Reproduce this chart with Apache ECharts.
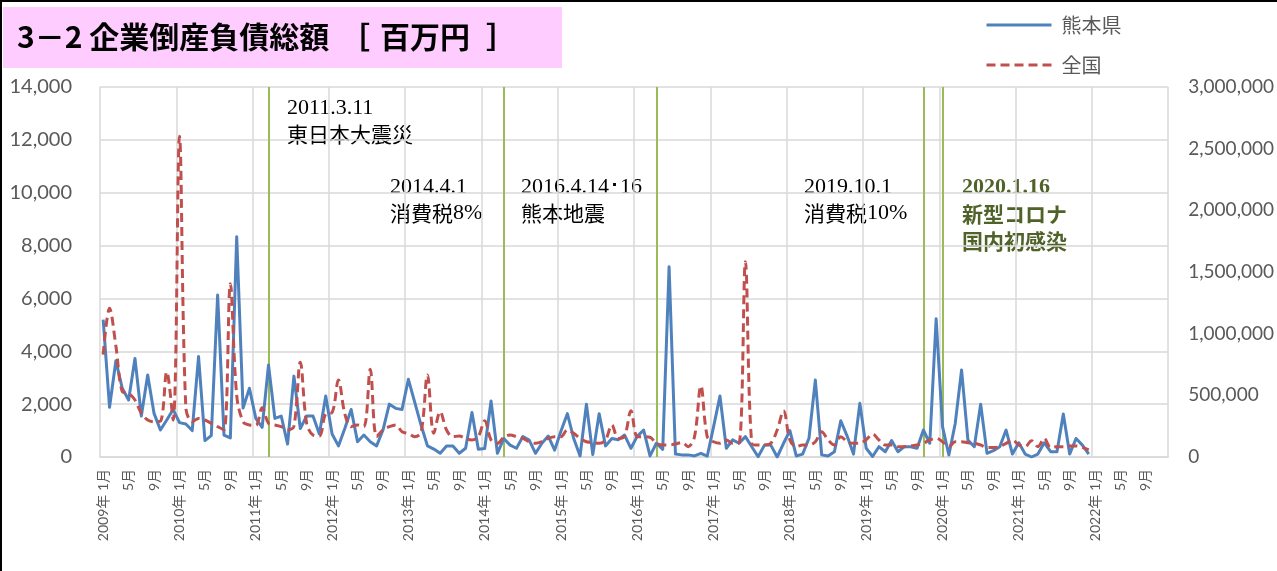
<!DOCTYPE html>
<html>
<head>
<meta charset="utf-8">
<script src="https://cdn.jsdelivr.net/npm/echarts@6/dist/echarts.min.js"></script>
<style>
html,body{margin:0;padding:0;background:#fff;}
#chart{width:1277px;height:571px;}
</style>
</head>
<body>
<div id="chart"></div>
<script>
// ---- data ----
const startYear = 2009;
const endYear = 2022;           // axis runs to 2022年12月
const seriesNames = ['熊本県', '全国'];
// 熊本県 負債総額 [百万円], monthly 2009年1月 - 2021年12月 (left axis)
const kumamoto = [
  5200, 1880, 3640, 2600, 2160, 3730, 1550, 3100, 1650, 1020, 1400, 1800,
  1300, 1250, 1000, 3800, 620, 810, 6130, 830, 720, 8330, 1850, 2600,
  1460, 1120, 3480, 1460, 1550, 490, 3060, 1080, 1550, 1550, 870, 2310,
  870, 420, 1080, 1800, 580, 830, 580, 420, 1020, 2000, 1840, 1800,
  2940, 2070, 1200, 420, 300, 140, 420, 420, 140, 330, 1680, 290,
  320, 2120, 140, 700, 450, 330, 770, 640, 140, 520, 790, 260,
  980, 1640, 700, 40, 2000, 90, 1640, 420, 700, 650, 830, 330,
  790, 1020, 40, 520, 290, 7200, 110, 80, 80, 40, 140, 30,
  1150, 2310, 330, 650, 520, 770, 390, 10, 450, 450, 0, 520,
  1000, 40, 110, 710, 2910, 80, 40, 200, 1370, 790, 110, 2030,
  330, 20, 390, 200, 620, 200, 390, 390, 330, 1020, 520, 5230,
  1150, 75, 1270, 3290, 640, 390, 2000, 140, 240, 390, 1020, 110,
  540, 110, 0, 110, 540, 200, 200, 1630, 110, 700, 450, 110
];
// 全国 負債総額 [百万円] (right axis)
const zenkoku = [
  830000, 1206000, 900000, 530000, 516000, 462000, 354000, 300000, 286000, 290000, 690000, 300000,
  2600000, 400000, 286000, 313000, 300000, 273000, 246000, 220000, 1405000, 500000, 286000, 260000,
  257000, 400000, 273000, 260000, 246000, 219000, 250000, 768000, 273000, 178000, 170000, 349000,
  360000, 624000, 350000, 246000, 260000, 246000, 711000, 165000, 219000, 246000, 260000, 205000,
  190000, 165000, 200000, 665000, 192000, 367000, 219000, 165000, 170000, 151000, 138000, 165000,
  294000, 138000, 111000, 160000, 178000, 165000, 151000, 124000, 111000, 124000, 151000, 165000,
  165000, 219000, 192000, 151000, 124000, 118000, 111000, 138000, 260000, 151000, 170000, 375000,
  165000, 165000, 160000, 111000, 97000, 97000, 105000, 118000, 84000, 165000, 576000, 165000,
  124000, 111000, 138000, 111000, 113000, 1584000, 111000, 97000, 97000, 111000, 219000, 375000,
  138000, 84000, 97000, 97000, 124000, 205000, 138000, 97000, 165000, 124000, 111000, 111000,
  140000, 186000, 138000, 97000, 97000, 84000, 84000, 90000, 97000, 111000, 138000, 151000,
  124000, 84000, 124000, 124000, 116000, 111000, 97000, 78000, 78000, 84000, 111000, 138000,
  97000, 84000, 132000, 84000, 151000, 78000, 84000, 84000, 90000, 90000, 78000, 57000
];
// event lines (category names) and their annotation texts
const eventMonths = ['2011年3月', '2014年4月', '2016年4月', '2019年10月', '2020年1月'];
const annotations = [
  { date: '2011.3.11', lines: ['東日本大震災'], x: 287, y: 95 },
  { date: '2014.4.1', lines: ['{j|消費税}{d|8%}'], x: 390, y: 174 },
  { date: '2016.4.14･16', lines: ['熊本地震'], x: 521, y: 174 },
  { date: '2019.10.1', lines: ['{j|消費税}{d|10%}'], x: 804, y: 174 }
];
const covidNote = { date: '2020.1.16', lines: ['新型コロナ', '国内初感染'], x: 962, y: 174 };
const titleMain = '3－2 企業倒産負債総額';
const titleUnit = ['［', '百万円', '］'];
const leftTicks = { min: 0, max: 14000, interval: 2000 };
const rightTicks = { min: 0, max: 3000000, interval: 500000 };

// categories: every month of the axis
const categories = [];
for (let y = startYear; y <= endYear; y++) {
  for (let m = 1; m <= 12; m++) categories.push(y + '年' + m + '月');
}

const labelFont = "Lato, 'Noto Sans CJK JP', sans-serif";
const serif = "'Liberation Serif', serif";
const cjk = "'Noto Sans CJK JP', sans-serif";

const chart = echarts.init(document.getElementById('chart'), null, { renderer: 'canvas' });

const titleFont = "bold 30px 'Noto Sans CJK JP', sans-serif";
const graphics = [
  { type: 'rect', left: 0, top: 0, shape: { width: 1277, height: 2 }, style: { fill: '#000' }, silent: true },
  { type: 'rect', left: 0, top: 0, shape: { width: 2, height: 571 }, style: { fill: '#000' }, silent: true },
  { type: 'rect', left: 3, top: 7, shape: { width: 559, height: 61 }, style: { fill: '#FFCCFF' }, silent: true },
  { type: 'text', x: 17, y: 37, style: { text: titleMain, fill: '#000', font: titleFont, verticalAlign: 'middle' }, silent: true },
  { type: 'text', x: 340, y: 37, style: { text: titleUnit[0], fill: '#000', font: titleFont, verticalAlign: 'middle' }, silent: true },
  { type: 'text', x: 380, y: 37, style: { text: titleUnit[1], fill: '#000', font: titleFont, verticalAlign: 'middle' }, silent: true },
  { type: 'text', x: 486, y: 37, style: { text: titleUnit[2], fill: '#000', font: titleFont, verticalAlign: 'middle' }, silent: true }
];
function noteText(a, color, weight, lh) {
  const body = a.lines.map(l => l.indexOf('{') === 0 ? l : '{j|' + l + '}').join('\n');
  return {
    type: 'text', x: a.x, y: a.y, silent: true,
    style: {
      text: '{d|' + a.date + '}\n' + body,
      verticalAlign: 'top',
      rich: {
        d: { fontFamily: serif, fontSize: 22, fontWeight: weight, fill: color, color: color, lineHeight: lh },
        j: { fontFamily: cjk, fontSize: 21, fontWeight: weight, fill: color, color: color, lineHeight: lh }
      }
    }
  };
}
annotations.forEach(a => graphics.push(noteText(a, '#000', 'normal', 26)));
graphics.push(noteText(covidNote, '#4F6228', 'bold', 27));

const option = {
  animation: false,
  backgroundColor: '#fff',
  grid: { left: 100, right: 106, top: 87, bottom: 114, containLabel: false },
  legend: {
    orient: 'vertical', left: 985, top: 15, padding: 0, itemWidth: 65, itemHeight: 14, itemGap: 20,
    itemStyle: { opacity: 0 },
    lineStyle: { width: 3 },
    textStyle: { fontFamily: "'Noto Sans CJK JP', sans-serif", fontSize: 20, color: '#595959', padding: [0, 0, 0, 5] },
    data: seriesNames
  },
  graphic: graphics,
  xAxis: {
    type: 'category', data: categories, boundaryGap: true,
    axisLine: { show: true, lineStyle: { color: '#D9D9D9', width: 1.5 } },
    axisTick: { show: false },
    splitLine: { show: true, interval: 11, lineStyle: { color: '#D9D9D9', width: 1.5 } },
    axisLabel: {
      interval: 3, rotate: 90, margin: 12, color: '#595959', fontSize: 14, fontFamily: labelFont,
      formatter: v => /年1月$/.test(v) ? v.replace('年', '年 ') : v.replace(/^\d+年/, '')
    }
  },
  yAxis: [
    {
      type: 'value', min: leftTicks.min, max: leftTicks.max, interval: leftTicks.interval,
      axisLine: { show: false }, axisTick: { show: false },
      splitLine: { lineStyle: { color: '#D9D9D9', width: 1.5 } },
      axisLabel: { color: '#595959', fontSize: 20, fontFamily: labelFont, margin: 28 }
    },
    {
      type: 'value', min: rightTicks.min, max: rightTicks.max, interval: rightTicks.interval,
      axisLine: { show: false }, axisTick: { show: false }, splitLine: { show: false },
      axisLabel: { color: '#595959', fontSize: 19, fontFamily: labelFont, margin: 20 }
    }
  ],
  series: [
    {
      name: seriesNames[0], type: 'line', yAxisIndex: 0, data: kumamoto,
      symbol: 'none', z: 3,
      lineStyle: { color: '#4F81BD', width: 3, join: 'round' },
      itemStyle: { color: '#4F81BD' },
      markLine: {
        silent: true, symbol: ['none', 'none'], z: 2,
        label: { show: false },
        lineStyle: { color: '#9BBB59', width: 2, type: 'solid' },
        data: eventMonths.map(m => ({ xAxis: m }))
      }
    },
    {
      name: seriesNames[1], type: 'line', yAxisIndex: 1, data: zenkoku,
      symbol: 'none', smooth: 0.35, z: 4,
      lineStyle: { color: '#C0504D', width: 3, type: [9, 5] },
      itemStyle: { color: '#C0504D' }
    }
  ]
};
chart.setOption(option);
</script>
</body>
</html>
